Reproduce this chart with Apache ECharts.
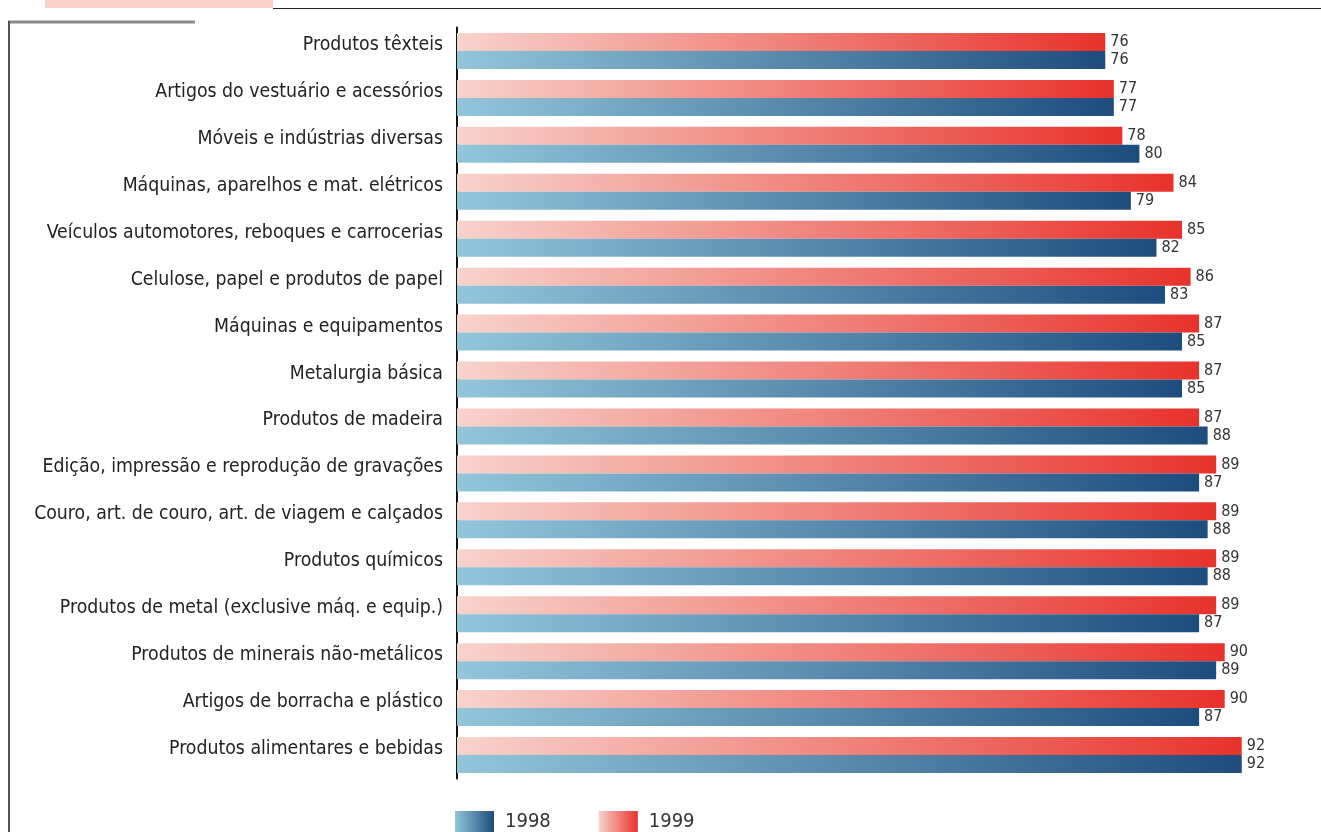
<!DOCTYPE html>
<html>
<head>
<meta charset="utf-8">
<script src="https://cdn.jsdelivr.net/npm/echarts@6/dist/echarts.min.js"></script>
<style>
  html, body { margin: 0; padding: 0; background: #ffffff; }
  #chart { width: 1321px; height: 832px; }
</style>
</head>
<body>
<div id="chart"></div>
<script>
// Industrial sectors, listed top to bottom
const categories = [
  'Produtos têxteis',
  'Artigos do vestuário e acessórios',
  'Móveis e indústrias diversas',
  'Máquinas, aparelhos e mat. elétricos',
  'Veículos automotores, reboques e carrocerias',
  'Celulose, papel e produtos de papel',
  'Máquinas e equipamentos',
  'Metalurgia básica',
  'Produtos de madeira',
  'Edição, impressão e reprodução de gravações',
  'Couro, art. de couro, art. de viagem e calçados',
  'Produtos químicos',
  'Produtos de metal (exclusive máq. e equip.)',
  'Produtos de minerais não-metálicos',
  'Artigos de borracha e plástico',
  'Produtos alimentares e bebidas'
];
const values1999 = [76, 77, 78, 84, 85, 86, 87, 87, 87, 89, 89, 89, 89, 90, 90, 92];
const values1998 = [76, 77, 80, 79, 82, 83, 85, 85, 88, 87, 88, 88, 87, 89, 87, 92];

const FONT = "'Liberation Sans Narrow', 'DejaVu Sans Condensed', 'Liberation Sans', sans-serif";

function hGrad(c0, c1) {
  return new echarts.graphic.LinearGradient(0, 0, 1, 0, [
    { offset: 0, color: c0 },
    { offset: 1, color: c1 }
  ]);
}
const blueGrad = hGrad('#93c6da', '#1e4c7e');
const redGrad = hGrad('#f7d3cb', '#e8322c');

const valueLabel = {
  show: true,
  position: 'right',
  distance: 5,
  color: '#333333',
  fontFamily: FONT,
  fontSize: 16
};

const chart = echarts.init(document.getElementById('chart'), null, { renderer: 'canvas' });
chart.setOption({
  backgroundColor: '#ffffff',
  animation: false,
  grid: { left: 457, top: 27.5, width: 853, height: 751, containLabel: false },
  xAxis: {
    type: 'value',
    min: 0,
    max: 100,
    show: false
  },
  yAxis: {
    type: 'category',
    data: categories,
    inverse: true,
    axisLine: { show: true, lineStyle: { color: '#111111', width: 2 } },
    axisTick: { show: false },
    axisLabel: {
      color: '#222222',
      fontFamily: FONT,
      fontSize: 19.3,
      margin: 14,
      verticalAlign: 'bottom',
      lineHeight: 12
    },
    splitLine: { show: false }
  },
  legend: {
    data: ['1998', '1999'],
    icon: 'rect',
    left: 455,
    top: 811,
    padding: 0,
    itemWidth: 39,
    itemHeight: 21,
    itemGap: 48,
    textStyle: { color: '#333333', fontFamily: FONT, fontSize: 20, padding: [0, 0, 0, 6] }
  },
  series: [
    {
      name: '1999',
      type: 'bar',
      data: values1999,
      barWidth: 18,
      barGap: '0%',
      itemStyle: { color: redGrad },
      label: valueLabel
    },
    {
      name: '1998',
      type: 'bar',
      data: values1998,
      barWidth: 18,
      barGap: '0%',
      itemStyle: { color: blueGrad },
      label: valueLabel
    }
  ],
  graphic: [
    { type: 'rect', shape: { x: 45, y: 0, width: 228, height: 8 }, style: { fill: '#f8d2c8' }, silent: true },
    { type: 'line', shape: { x1: 273, y1: 8.5, x2: 1321, y2: 8.5 }, style: { stroke: '#222222', lineWidth: 1 }, silent: true },
    { type: 'line', shape: { x1: 8, y1: 22, x2: 195, y2: 22 }, style: { stroke: '#8a8a8a', lineWidth: 3 }, silent: true },
    { type: 'line', shape: { x1: 9, y1: 21, x2: 9, y2: 832 }, style: { stroke: '#555555', lineWidth: 2 }, silent: true }
  ]
});
</script>
</body>
</html>
